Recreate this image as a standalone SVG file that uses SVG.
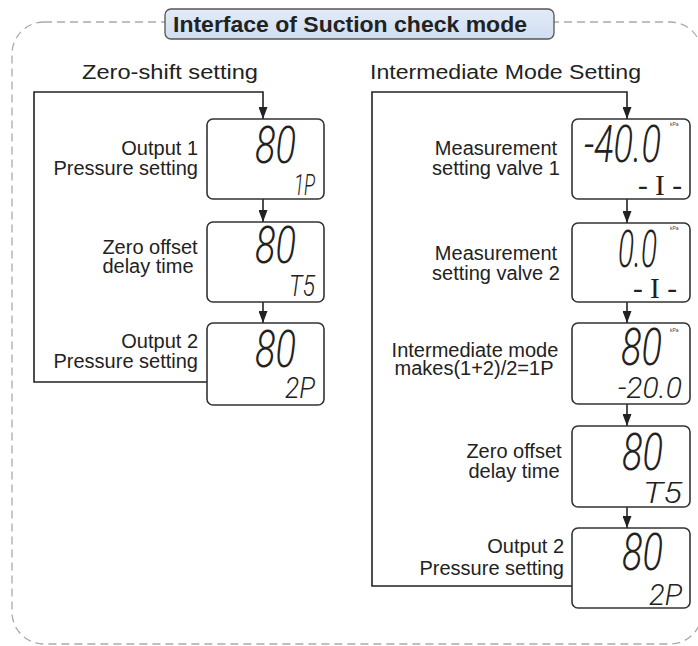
<svg xmlns="http://www.w3.org/2000/svg" width="698" height="646" viewBox="0 0 698 646">
<defs>
<linearGradient id="tg" x1="0" y1="0" x2="0" y2="1">
<stop offset="0" stop-color="#e2ebf7"/>
<stop offset="1" stop-color="#d0def0"/>
</linearGradient>
<marker id="ah" viewBox="0 0 12 9" markerWidth="12" markerHeight="9" refX="12" refY="4.5" orient="auto" markerUnits="userSpaceOnUse">
<path d="M0,0 L12,4.5 L0,9 z" fill="#222"/>
</marker>
<style>
.lbl{font-family:"Liberation Sans",Arial,sans-serif;font-size:20px;fill:#222}
.sub{font-family:"Liberation Sans",Arial,sans-serif;font-size:20px;fill:#222}
.ttl{font-family:"Liberation Sans",Arial,sans-serif;font-size:22px;font-weight:bold;fill:#222}
.box{fill:#fff;stroke:#333;stroke-width:1.6}
.big{font-family:Roboto,"Liberation Sans",sans-serif;font-weight:300;font-style:italic;font-size:52px;fill:#222}
.sm{font-family:Roboto,"Liberation Sans",sans-serif;font-weight:300;font-style:italic;font-size:30px;fill:#222}
.ii{font-family:"Liberation Serif","Times New Roman",serif;font-size:30px;fill:#222}
.kpa{font-family:"Liberation Sans",Arial,sans-serif;font-size:5px;fill:#444}
.con{fill:none;stroke:#222;stroke-width:1.6}
</style>
</defs>
<rect width="698" height="646" fill="#fff"/>
<rect x="12" y="22" width="690" height="622" rx="32" fill="none" stroke="#aaa" stroke-width="1.3" stroke-dasharray="8 5"/>
<g id="title">
<rect x="165" y="9" width="389" height="30" rx="6" fill="url(#tg)" stroke="#555" stroke-width="1.3"/>
<text class="ttl" x="173" y="32" textLength="354" lengthAdjust="spacingAndGlyphs">Interface of Suction check mode</text>
</g>
<text class="sub" x="82" y="79" textLength="176" lengthAdjust="spacingAndGlyphs">Zero-shift setting</text>
<text class="sub" x="370" y="79" textLength="271" lengthAdjust="spacingAndGlyphs">Intermediate Mode Setting</text>

<g id="connectors">
<path class="con" d="M207,382 H34 V92 H263 V119" marker-end="url(#ah)"/>
<path class="con" d="M263,199 V222" marker-end="url(#ah)"/>
<path class="con" d="M263,302 V323" marker-end="url(#ah)"/>
<path class="con" d="M572,586 H372 V92 H627 V119" marker-end="url(#ah)"/>
<path class="con" d="M627,199 V223" marker-end="url(#ah)"/>
<path class="con" d="M627,302 V323" marker-end="url(#ah)"/>
<path class="con" d="M627,404 V426" marker-end="url(#ah)"/>
<path class="con" d="M627,507 V528" marker-end="url(#ah)"/>
</g>

<g id="zs1">
<rect class="box" x="207" y="119" width="117" height="80" rx="6"/>
<text class="big" x="255" y="163" textLength="41" lengthAdjust="spacingAndGlyphs">80</text>
<text class="sm" x="294" y="195" textLength="21" lengthAdjust="spacingAndGlyphs">1P</text>
<text class="lbl" x="198" y="155" text-anchor="end">Output 1</text>
<text class="lbl" x="198" y="175" text-anchor="end">Pressure setting</text>
</g>
<g id="zs2">
<rect class="box" x="207" y="222" width="117" height="80" rx="6"/>
<text class="big" x="255" y="263" textLength="41" lengthAdjust="spacingAndGlyphs">80</text>
<text class="sm" x="289" y="296" textLength="26" lengthAdjust="spacingAndGlyphs">T5</text>
<text class="lbl" x="150" y="254" text-anchor="middle">Zero offset</text>
<text class="lbl" x="148" y="273" text-anchor="middle">delay time</text>
</g>
<g id="zs3">
<rect class="box" x="207" y="323" width="117" height="82" rx="6"/>
<text class="big" x="255" y="367" textLength="41" lengthAdjust="spacingAndGlyphs">80</text>
<text class="sm" x="285" y="398" textLength="30" lengthAdjust="spacingAndGlyphs">2P</text>
<text class="lbl" x="198" y="348" text-anchor="end">Output 2</text>
<text class="lbl" x="198" y="368" text-anchor="end">Pressure setting</text>
</g>

<g id="im1">
<rect class="box" x="572" y="119" width="118" height="80" rx="6"/>
<text class="big" x="584" y="162" textLength="77" lengthAdjust="spacingAndGlyphs">-40.0</text>
<text class="kpa" x="670" y="126">kPa</text>
<text class="ii" x="638" y="195" textLength="44" lengthAdjust="spacingAndGlyphs">- I -</text>
<text class="lbl" x="496" y="155" text-anchor="middle">Measurement</text>
<text class="lbl" x="496" y="175" text-anchor="middle">setting valve 1</text>
</g>
<g id="im2">
<rect class="box" x="572" y="223" width="118" height="79" rx="6"/>
<text class="big" x="618" y="267" textLength="39" lengthAdjust="spacingAndGlyphs">0.0</text>
<text class="kpa" x="670" y="230">kPa</text>
<text class="ii" x="633" y="298" textLength="44" lengthAdjust="spacingAndGlyphs">- I -</text>
<text class="lbl" x="496" y="260" text-anchor="middle">Measurement</text>
<text class="lbl" x="496" y="280" text-anchor="middle">setting valve 2</text>
</g>
<g id="im3">
<rect class="box" x="572" y="323" width="118" height="81" rx="6"/>
<text class="big" x="621" y="365" textLength="41" lengthAdjust="spacingAndGlyphs">80</text>
<text class="kpa" x="670" y="332">kPa</text>
<text class="sm" x="618" y="398" textLength="64" lengthAdjust="spacingAndGlyphs">-20.0</text>
<text class="lbl" x="475" y="357" text-anchor="middle">Intermediate mode</text>
<text class="lbl" x="474" y="375" text-anchor="middle">makes(1+2)/2=1P</text>
</g>
<g id="im4">
<rect class="box" x="572" y="426" width="118" height="81" rx="6"/>
<text class="big" x="622" y="470" textLength="41" lengthAdjust="spacingAndGlyphs">80</text>
<text class="sm" x="643" y="503" textLength="39" lengthAdjust="spacingAndGlyphs">T5</text>
<text class="lbl" x="514" y="458" text-anchor="middle">Zero offset</text>
<text class="lbl" x="514" y="478" text-anchor="middle">delay time</text>
</g>
<g id="im5">
<rect class="box" x="572" y="528" width="118" height="80" rx="6"/>
<text class="big" x="622" y="570" textLength="41" lengthAdjust="spacingAndGlyphs">80</text>
<text class="sm" x="649" y="605" textLength="33" lengthAdjust="spacingAndGlyphs">2P</text>
<text class="lbl" x="564" y="553" text-anchor="end">Output 2</text>
<text class="lbl" x="564" y="575" text-anchor="end">Pressure setting</text>
</g>
</svg>
